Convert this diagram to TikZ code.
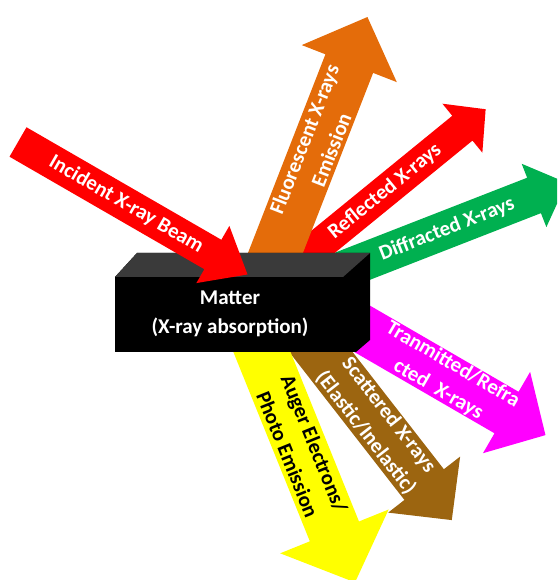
\documentclass[tikz,border=0pt]{standalone}
\usepackage{fontspec}
\setmainfont{Carlito}
\usetikzlibrary{positioning}

\definecolor{xred}{HTML}{FF0000}
\definecolor{xorange}{HTML}{E46C0A}
\definecolor{xgreen}{HTML}{00B050}
\definecolor{xmagenta}{HTML}{FF00FF}
\definecolor{xbrown}{HTML}{9C6510}
\definecolor{xyellow}{HTML}{FFFF00}
\definecolor{boxtop}{HTML}{3A3A3A}

% name, colour, tail, angle, length, half shaft, half head, head length
\newcommand{\fatarrow}[8]{%
  \coordinate (#1) at #3;
  \fill[#2,shift={(#1)},rotate=#4] (0,-#6) -- (#5-#8,-#6) -- (#5-#8,-#7) -- (#5,0)
    -- (#5-#8,#7) -- (#5-#8,#6) -- (0,#6) -- cycle;
}

\begin{document}
\begin{tikzpicture}[x=1pt,y=1pt,
  lbl/.style={font=\bfseries\fontsize{21}{29}\selectfont,text=white,align=center,inner sep=0pt}]
  \clip (0,0) rectangle (557,580);
  \useasboundingbox (0,0) rectangle (557,580);

  \fatarrow{trans}{xmagenta}{(340,264)}{-30.1}{237.5}{24}{47}{45}
  \fatarrow{scat}{xbrown}{(296,260)}{-52.1}{253.6}{25}{45.6}{45}
  \fatarrow{auger}{xyellow}{(249,260)}{-68}{283}{26.5}{58.5}{55}
  \fatarrow{diff}{xgreen}{(330,305)}{21.3}{254}{19}{34}{35}
  \fatarrow{refl}{xred}{(264,290)}{39.2}{286}{16}{31.6}{30}
  \fatarrow{fluor}{xorange}{(261,290)}{68.7}{293}{25.6}{51}{50}

  % the block of matter
  \fill[black] (115,303) -- (137,327) -- (370,327) -- (370,240) -- (356,228) -- (115,228) -- cycle;
  \fill[boxtop] (115,303) -- (137,327) -- (370,327) -- (343,303) -- cycle;
  \node[lbl] (matter) at (230,266) {Matter\\(X-ray absorption)};

  \fatarrow{incident}{xred}{(18,438)}{-30}{265}{17}{33}{40}

  \node[lbl,rotate=-30] (incidentlbl) at ([shift={(-30:125)}]incident) {Incident X-ray Beam};
  \node[lbl,rotate=68.7] (fluorlbl) at ([shift={(68.7:156)}]fluor) {Fluorescent X-rays\\Emission};
  \node[lbl,rotate=39.2] (refllbl) at ([shift={(39.2:156)}]refl) {Reflected X-rays};
  \node[lbl,rotate=21.3] (difflbl) at ([shift={(21.3:125.5)}]diff) {Diffracted X-rays};
  \node[lbl,rotate=-30.1] (translbl) at ([shift={(-30.1:122)}]trans) {Tranmitted/Refra\\cted~ X-rays};
  \node[lbl,rotate=-52.1] (scatlbl) at ([shift={(-52.1:132)}]scat) {Scattered X-rays\\(Elastic/Inelastic)};
  \node[lbl,rotate=-68,text=black] (augerlbl) at ([shift={(-68:139)}]auger) {Auger Electrons/\\Photo Emission};
\end{tikzpicture}
\end{document}
